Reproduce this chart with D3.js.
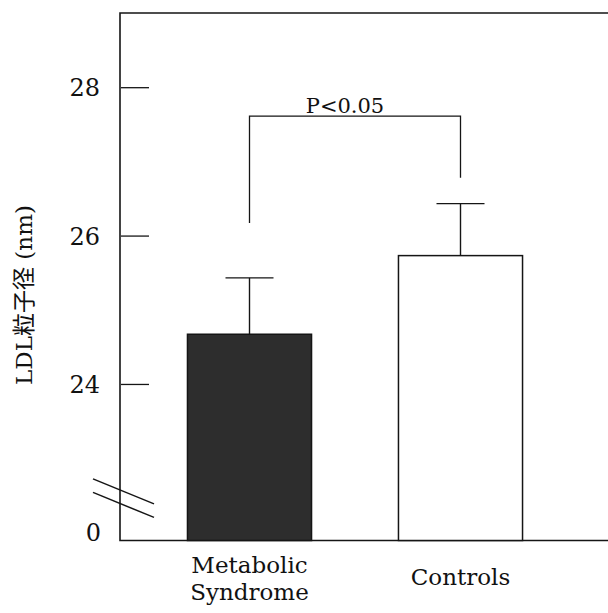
<!DOCTYPE html>
<html>
<head>
<meta charset="utf-8">
<script src="https://cdn.jsdelivr.net/npm/d3@7"></script>
<style>
  html, body { margin: 0; padding: 0; background: #fff; }
  svg { display: block; }
  text { font-family: "DejaVu Serif", "Noto Sans CJK JP", serif; fill: #111; }
</style>
</head>
<body>
<svg id="chart" width="608" height="613"></svg>
<script>
// LDL particle size (nm), mean ± SD per group
const categories = ["Metabolic Syndrome", "Controls"];
const labelLines = [["Metabolic", "Syndrome"], ["Controls"]];
const means = [24.67, 25.73];
const sds = [0.76, 0.70];
const barFills = ["#2d2d2d", "#ffffff"];
const yTicks = [24, 26, 28];
const yTickLabels = ["24", "26", "28"];
const breakLabel = "0";
const yTitle = "LDL粒子径 (nm)";
const sigText = "P<0.05";
// significance bracket: top level and the two leg ends
const bracketTop = 27.61;
const bracketLegEnds = [26.17, 26.78];

const svg = d3.select("#chart");
const axisX = 120, baseY = 540.5, topY = 13, rightX = 608;

// value axis starts above zero (broken axis), so the bottom of the plot is ~21.9
const y = d3.scaleLinear().domain([21.89, 29.0]).range([baseY, topY]);
const x = d3.scaleBand().domain(categories).range([144, 566])
  .paddingInner(0.412).paddingOuter(0.206);

const ink = "#151515";

// frame: left axis, top and bottom lines
svg.append("path")
  .attr("d", `M${rightX},${topY}H${axisX}V${baseY}H${rightX}`)
  .attr("fill", "none").attr("stroke", ink).attr("stroke-width", 1.6);

// y ticks drawn inward with labels on the left
const yAxis = d3.axisLeft(y).tickValues(yTicks).tickSize(0)
  .tickFormat((d, i) => yTickLabels[i]).tickPadding(20);
const gy = svg.append("g").attr("transform", `translate(${axisX},0)`).call(yAxis);
gy.select(".domain").remove();
gy.selectAll(".tick text").attr("font-size", 24).attr("font-family", "DejaVu Serif")
  .attr("fill", ink).attr("dy", "0.36em");
gy.selectAll(".tick").append("line")
  .attr("x1", 1).attr("x2", 29).attr("stroke", ink).attr("stroke-width", 1.3);

// zero label at the axis base
svg.append("text").attr("x", axisX - 19).attr("y", baseY)
  .attr("text-anchor", "end").attr("font-size", 24).text(breakLabel);

// axis break marks
const breakY = y(22.72);
[0, 13.5].forEach(off => {
  svg.append("line")
    .attr("x1", axisX - 27).attr("y1", breakY + off)
    .attr("x2", axisX + 34).attr("y2", breakY + off + 25)
    .attr("stroke", ink).attr("stroke-width", 1.5);
});

// bars
svg.selectAll("rect.bar").data(categories).join("rect")
  .attr("class", "bar")
  .attr("x", d => x(d)).attr("width", x.bandwidth())
  .attr("y", (d, i) => y(means[i]))
  .attr("height", (d, i) => baseY - y(means[i]))
  .attr("fill", (d, i) => barFills[i])
  .attr("stroke", ink).attr("stroke-width", 1.5);

// error bars (upper only)
const cx = d => x(d) + x.bandwidth() / 2;
categories.forEach((c, i) => {
  const top = y(means[i] + sds[i]);
  svg.append("line").attr("x1", cx(c)).attr("x2", cx(c))
    .attr("y1", y(means[i])).attr("y2", top)
    .attr("stroke", ink).attr("stroke-width", 1.4);
  svg.append("line").attr("x1", cx(c) - 24).attr("x2", cx(c) + 24)
    .attr("y1", top).attr("y2", top)
    .attr("stroke", ink).attr("stroke-width", 1.4);
});

// significance bracket
const bx0 = cx(categories[0]), bx1 = cx(categories[1]);
svg.append("path")
  .attr("d", `M${bx0},${y(bracketLegEnds[0])}V${y(bracketTop)}H${bx1}V${y(bracketLegEnds[1])}`)
  .attr("fill", "none").attr("stroke", ink).attr("stroke-width", 1.3);
svg.append("text").attr("x", (bx0 + bx1) / 2 - 10).attr("y", y(bracketTop) - 3)
  .attr("text-anchor", "middle").attr("font-size", 21).text(sigText);

// category labels
categories.forEach((c, i) => {
  const lines = labelLines[i];
  const t = svg.append("text").attr("text-anchor", "middle").attr("font-size", 23)
    .attr("x", cx(c));
  const firstY = lines.length > 1 ? 573 : 585;
  lines.forEach((s, k) => {
    t.append("tspan").attr("x", cx(c)).attr("y", firstY + k * 27).text(s);
  });
});

// y axis title
svg.append("text")
  .attr("transform", "translate(32,295) rotate(-90)")
  .attr("text-anchor", "middle").attr("font-size", 23)
  .attr("font-family", "'DejaVu Serif', 'Noto Sans CJK JP', serif")
  .text(yTitle);
</script>
</body>
</html>
